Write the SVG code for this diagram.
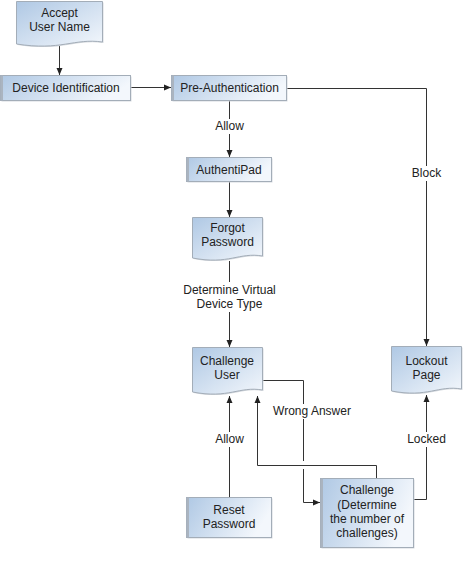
<svg xmlns="http://www.w3.org/2000/svg" width="467" height="561" viewBox="0 0 467 561">
<defs>
<linearGradient id="gRect" x1="0" y1="0" x2="1" y2="0.3">
<stop offset="0" stop-color="#afc8e4"/>
<stop offset="1" stop-color="#f3f7fc"/>
</linearGradient>
<linearGradient id="gDoc" x1="0" y1="0" x2="1" y2="1">
<stop offset="0" stop-color="#afc8e4"/>
<stop offset="1" stop-color="#f3f7fc"/>
</linearGradient>
<marker id="arr" markerUnits="userSpaceOnUse" markerWidth="8" markerHeight="8" refX="7" refY="4" orient="auto">
<path d="M0,1 L7,4 L0,7 z" fill="#222"/>
</marker>
<style>
.rect{fill:url(#gRect);stroke:#a3adb8;stroke-width:1}
.doc{fill:url(#gDoc);stroke:#a3adb8;stroke-width:1}
.edge{fill:#aab4c0}
.shadow{fill:#d6dadf}
.line{fill:none;stroke:#333;stroke-width:1}
.arrow{marker-end:url(#arr)}
text{font-family:"Liberation Sans",Arial,sans-serif;font-size:12px;fill:#222;text-anchor:middle}
.lbg{fill:#fff}
</style>
</defs>
<rect width="467" height="561" fill="#fff"/>

<g id="connectors">
<path class="line arrow" d="M59.5,46 V75"/>
<path class="line arrow" d="M130,87.5 H171"/>
<path class="line arrow" d="M229.5,100 V157"/>
<path class="line arrow" d="M229.5,182 V217"/>
<path class="line arrow" d="M229.5,261 V347"/>
<path class="line arrow" d="M286,88.5 H426.5 V346"/>
<path class="line" d="M262,380.5 H303.5 V461"/>
<path class="line arrow" d="M303.5,469 V502.5 H320"/>
<path class="line arrow" d="M376.5,478 V465.5 H257.5 V396"/>
<path class="line arrow" d="M229.5,497 V396"/>
<path class="line arrow" d="M413,499.5 H426.5 V395"/>
<rect class="lbg" x="212" y="119" width="35" height="15"/>
<text x="229.5" y="130">Allow</text>
<rect class="lbg" x="180" y="282" width="100" height="30"/>
<text x="229.5" y="294">Determine Virtual</text>
<text x="229.5" y="308">Device Type</text>
<rect class="lbg" x="408" y="166" width="36" height="15"/>
<text x="426.5" y="177">Block</text>
<rect class="lbg" x="270" y="404" width="84" height="15"/>
<text x="312" y="415">Wrong Answer</text>
<rect class="lbg" x="212" y="432" width="35" height="15"/>
<text x="229.5" y="443">Allow</text>
<rect class="lbg" x="405" y="432" width="43" height="15"/>
<text x="426.5" y="443">Locked</text>
</g>

<g id="accept-user-name">
<path class="shadow" d="M17.5,2.5 H103.5 V43 C75,39 62,52 17.5,45 Z"/>
<path class="doc" d="M16.5,1.5 H102.5 V42 C74,38 61,51 16.5,44 Z"/>
<text x="59.5" y="17">Accept</text>
<text x="59.5" y="31">User Name</text>
</g>

<g id="device-identification">
<rect class="shadow" x="1.5" y="76.5" width="130" height="25"/>
<rect class="rect" x="0.5" y="75.5" width="130" height="25"/>
<rect class="edge" x="0.5" y="75.5" width="2.5" height="25"/>
<text x="66" y="92">Device Identification</text>
</g>

<g id="pre-authentication">
<rect class="shadow" x="172.5" y="76.5" width="115" height="25"/>
<rect class="rect" x="171.5" y="75.5" width="115" height="25"/>
<rect class="edge" x="171.5" y="75.5" width="2.5" height="25"/>
<text x="229.5" y="92">Pre-Authentication</text>
</g>

<g id="authentipad">
<rect class="shadow" x="187.5" y="158.5" width="85" height="24"/>
<rect class="rect" x="186.5" y="157.5" width="85" height="24"/>
<rect class="edge" x="186.5" y="157.5" width="2.5" height="24"/>
<text x="229" y="173.5">AuthentiPad</text>
</g>

<g id="forgot-password">
<path class="shadow" d="M193.5,218.5 H263.5 V257 C240,253 230,266 193.5,259 Z"/>
<path class="doc" d="M192.5,217.5 H262.5 V256 C239,252 229,265 192.5,258 Z"/>
<text x="227.5" y="232">Forgot</text>
<text x="227.5" y="246">Password</text>
</g>

<g id="challenge-user">
<path class="shadow" d="M193.5,348.5 H263.5 V391 C240,387 230,400 193.5,393 Z"/>
<path class="doc" d="M192.5,347.5 H262.5 V390 C239,386 229,399 192.5,392 Z"/>
<text x="227" y="365">Challenge</text>
<text x="227" y="379">User</text>
</g>

<g id="lockout-page">
<path class="shadow" d="M392.5,347.5 H462.5 V390 C439,386 429,399 392.5,392 Z"/>
<path class="doc" d="M391.5,346.5 H461.5 V389 C438,385 428,398 391.5,391 Z"/>
<text x="426.5" y="365">Lockout</text>
<text x="426.5" y="379">Page</text>
</g>

<g id="reset-password">
<rect class="shadow" x="187.5" y="498.5" width="85" height="40"/>
<rect class="rect" x="186.5" y="497.5" width="85" height="40"/>
<rect class="edge" x="186.5" y="497.5" width="2.5" height="40"/>
<text x="229" y="514">Reset</text>
<text x="229" y="528">Password</text>
</g>

<g id="challenge">
<rect class="shadow" x="321.5" y="479.5" width="93" height="69"/>
<rect class="rect" x="320.5" y="478.5" width="93" height="69"/>
<rect class="edge" x="320.5" y="478.5" width="2.5" height="69"/>
<text x="367" y="494">Challenge</text>
<text x="367" y="509">(Determine</text>
<text x="367" y="523">the number of</text>
<text x="367" y="537">challenges)</text>
</g>
</svg>
